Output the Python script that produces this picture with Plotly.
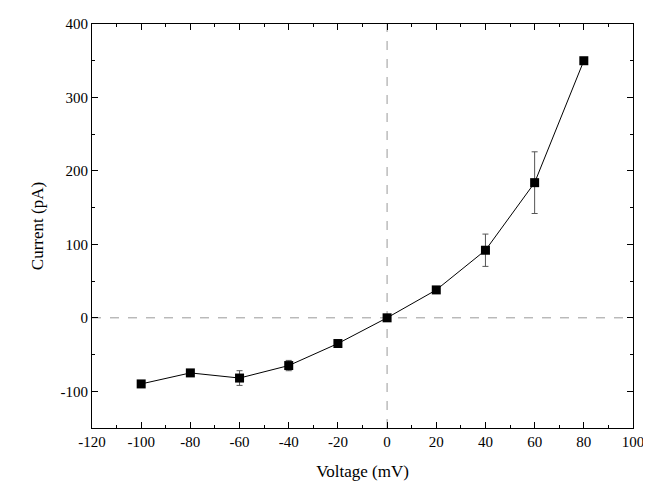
import plotly.graph_objects as go

# Messwerte
voltage = [-100, -80, -60, -40, -20, 0, 20, 40, 60, 80]
current = [-90, -75, -82, -65, -35, 0, 38, 92, 184, 350]
err = [3, 3, 10, 7, 3, 2, 3, 22, 42, 3]

x_ticks = [-120, -100, -80, -60, -40, -20, 0, 20, 40, 60, 80, 100]
y_ticks = [-100, 0, 100, 200, 300, 400]

fig = go.Figure()

fig.add_trace(go.Scatter(
    x=voltage, y=current,
    mode='lines+markers',
    line=dict(color='black', width=1),
    marker=dict(symbol='square', size=9, color='black'),
    error_y=dict(type='data', array=err, color='#555555', thickness=1, width=3),
    showlegend=False
))

achse = dict(
    showline=True, linecolor='black', linewidth=1, mirror='ticks',
    ticks='inside', ticklen=6, tickcolor='black',
    minor=dict(ticks='inside', ticklen=3, tickcolor='black'),
    showgrid=False, zeroline=False,
    tickfont=dict(family='Liberation Serif', size=15, color='black'),
)
titel_font = dict(family='Liberation Serif', size=17, color='black')

fig.update_layout(
    width=651, height=484,
    plot_bgcolor='white', paper_bgcolor='white',
    margin=dict(l=84, r=26, t=8, b=64),
    xaxis=dict(achse, range=[-120, 100], tickvals=x_ticks,
               ticktext=[str(v) for v in x_ticks], minor_dtick=10,
               title=dict(text='Voltage (mV)', font=titel_font, standoff=16)),
    yaxis=dict(achse, range=[-150, 400], tickvals=y_ticks,
               ticktext=[str(v) for v in y_ticks], minor_dtick=50,
               title=dict(text='Current (pA)', font=titel_font, standoff=12)),
    shapes=[
        dict(type='line', xref='x', yref='paper', x0=0, x1=0, y0=0, y1=1,
             line=dict(color='#999999', width=1, dash='dash'), layer='below'),
        dict(type='line', xref='paper', yref='y', x0=0, x1=1, y0=0, y1=0,
             line=dict(color='#999999', width=1, dash='dash'), layer='below'),
    ]
)

fig.write_html("out.html")
